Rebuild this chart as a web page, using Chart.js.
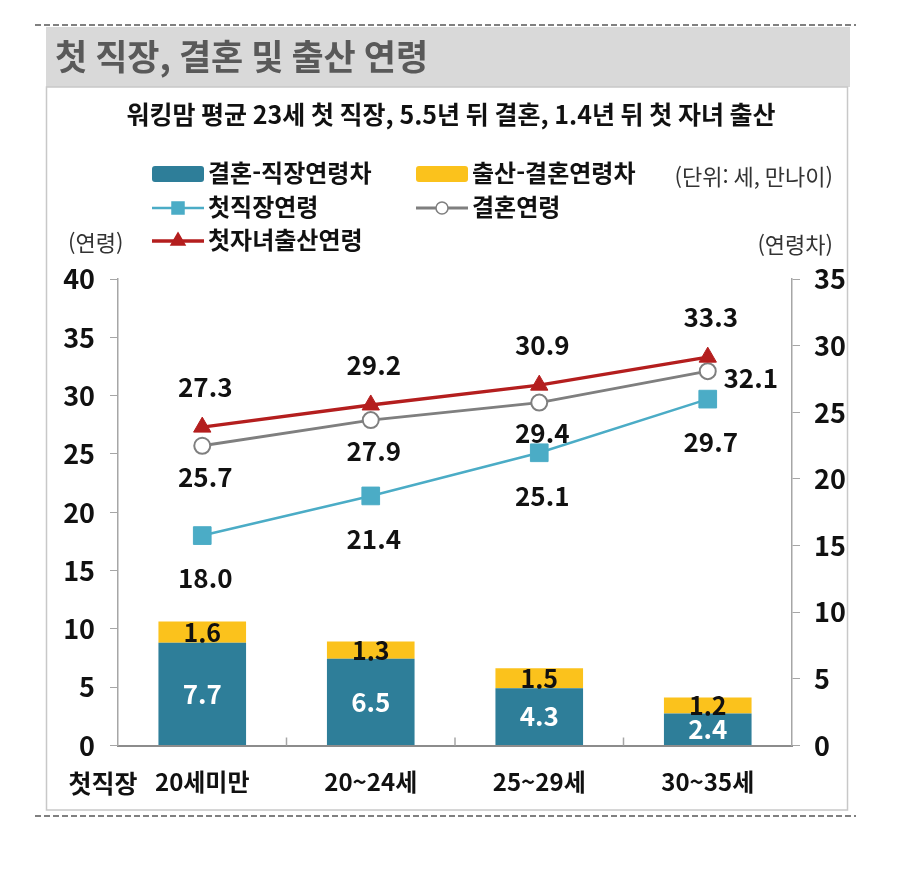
<!DOCTYPE html>
<html lang="ko">
<head>
<meta charset="utf-8">
<title>첫 직장, 결혼 및 출산 연령</title>
<script src="https://cdn.jsdelivr.net/npm/chart.js@4.4.1/dist/chart.umd.min.js"></script>
<style>
  html, body { margin: 0; padding: 0; background: #fff; }
  #wrap { width: 900px; height: 888px; }
</style>
</head>
<body>
<div id="wrap"><canvas id="ageChart" width="900" height="888"></canvas></div>
<script>
// 첫 직장 연령대
const categories = ["20세미만", "20~24세", "25~29세", "30~35세"];

// 막대 (오른쪽 축, 연령차)
const marriageJobGap = [7.7, 6.5, 4.3, 2.4];   // 결혼-직장연령차
const birthMarriageGap = [1.6, 1.3, 1.5, 1.2]; // 출산-결혼연령차

// 꺾은선 (왼쪽 축, 연령)
const firstJobAge = [18.0, 21.4, 25.1, 29.7];
const marriageAge = [25.7, 27.9, 29.4, 32.1];
const firstChildAge = [27.3, 29.2, 30.9, 33.3];

// 축 범위
const ageAxis = { min: 0, max: 40, step: 5 };
const gapAxis = { min: 0, max: 35, step: 5 };

const FONT = "'Noto Sans CJK KR', 'Noto Sans', sans-serif";
const TEAL = "#2e7e99";
const YELLOW = "#fbc21c";
const BLUE = "#4bacc6";
const GRAY = "#7f7f7f";
const RED = "#b41e1e";
const AXIS = "#a6a6a6";

// frame, title, legend and axis captions
const framePlugin = {
    id: "frame",
    beforeDraw(chart) {
        const ctx = chart.ctx;
        ctx.save();
        // dashed top / bottom rules
        ctx.strokeStyle = "#808080";
        ctx.lineWidth = 2;
        ctx.setLineDash([6, 3]);
        [25, 816].forEach(y => {
            ctx.beginPath();
            ctx.moveTo(35, y);
            ctx.lineTo(856, y);
            ctx.stroke();
        });
        ctx.setLineDash([]);
        // title bar
        ctx.fillStyle = "#d9d9d9";
        ctx.fillRect(46, 27, 804, 60);
        // white box border
        ctx.strokeStyle = "#c8c8c8";
        ctx.lineWidth = 1.5;
        ctx.strokeRect(46.5, 87, 801, 723);
        ctx.restore();
    },
    afterDraw(chart) {
        const ctx = chart.ctx;
        ctx.save();
        ctx.textBaseline = "middle";

        ctx.fillStyle = "#595959";
        ctx.font = "bold 35px " + FONT;
        ctx.textAlign = "left";
        ctx.fillText("첫 직장, 결혼 및 출산 연령", 55, 57);

        ctx.fillStyle = "#111";
        ctx.font = "bold 25px " + FONT;
        ctx.textAlign = "center";
        ctx.fillText("워킹맘 평균 23세 첫 직장, 5.5년 뒤 결혼, 1.4년 뒤 첫 자녀 출산", 451, 114);

        // axis captions
        ctx.fillStyle = "#333";
        ctx.font = "22px " + FONT;
        ctx.textAlign = "left";
        ctx.fillText("(연령)", 68, 243);
        ctx.textAlign = "right";
        ctx.fillText("(연령차)", 833, 245);
        ctx.fillText("(단위: 세, 만나이)", 833, 177);

        ctx.fillStyle = "#111";
        ctx.font = "bold 25px " + FONT;
        ctx.textAlign = "center";
        ctx.fillText("첫직장", 103, 783);

        // inner tick marks between categories on the x axis
        const xs = chart.scales.x;
        ctx.strokeStyle = AXIS;
        ctx.lineWidth = 1.5;
        for (let i = 1; i < categories.length; i++) {
            const bx = (xs.getPixelForValue(i - 1) + xs.getPixelForValue(i)) / 2;
            ctx.beginPath();
            ctx.moveTo(bx, xs.top);
            ctx.lineTo(bx, xs.top - 8);
            ctx.stroke();
        }

        drawLegend(chart, ctx);
        ctx.restore();
    }
};

// legend grid: column x, row y
const legendCols = [152, 416];
const legendRows = [174, 208, 241];
const legendSlots = {
    "결혼-직장연령차": [0, 0],
    "출산-결혼연령차": [1, 0],
    "첫직장연령": [0, 1],
    "결혼연령": [1, 1],
    "첫자녀출산연령": [0, 2]
};

function drawMarker(ctx, style, x, y, r, fill, stroke, lw) {
    ctx.fillStyle = fill;
    ctx.strokeStyle = stroke;
    ctx.lineWidth = lw;
    ctx.beginPath();
    if (style === "rect") {
        ctx.rect(x - r, y - r, 2 * r, 2 * r);
    } else if (style === "triangle") {
        ctx.moveTo(x, y - r);
        ctx.lineTo(x + r * 0.87, y + r * 0.5);
        ctx.lineTo(x - r * 0.87, y + r * 0.5);
        ctx.closePath();
    } else {
        ctx.arc(x, y, r, 0, Math.PI * 2);
    }
    ctx.fill();
    ctx.stroke();
}

function drawLegend(chart, ctx) {
    chart.data.datasets.forEach(ds => {
        const slot = legendSlots[ds.label];
        if (!slot) return;
        const x = legendCols[slot[0]];
        const y = legendRows[slot[1]];
        if (ds.type === "bar") {
            ctx.fillStyle = ds.backgroundColor;
            ctx.beginPath();
            ctx.roundRect(x, y - 8, 52, 16, 3);
            ctx.fill();
        } else {
            ctx.strokeStyle = ds.borderColor;
            ctx.lineWidth = ds.borderWidth;
            ctx.beginPath();
            ctx.moveTo(x, y);
            ctx.lineTo(x + 52, y);
            ctx.stroke();
            const r = ds.pointStyle === "rect" ? 6 : (ds.pointStyle === "triangle" ? 8 : 6);
            drawMarker(ctx, ds.pointStyle, x + 26, y, r, ds.pointBackgroundColor, ds.pointBorderColor, 1.5);
        }
        ctx.fillStyle = "#111";
        ctx.font = "bold 24px " + FONT;
        ctx.textAlign = "left";
        ctx.textBaseline = "middle";
        ctx.fillText(ds.label, x + 56, y - 1);
    });
}

// value labels next to each point / inside each bar segment
const valueLabels = {
    id: "valueLabels",
    afterDatasetsDraw(chart) {
        const ctx = chart.ctx;
        chart.data.datasets.forEach((ds, i) => {
            const meta = chart.getDatasetMeta(i);
            const opt = ds.valueLabel;
            if (meta.hidden || !opt) return;
            ctx.save();
            ctx.font = opt.font;
            ctx.fillStyle = opt.color;
            ctx.textAlign = "center";
            ctx.textBaseline = "middle";
            meta.data.forEach((el, j) => {
                let x = el.x;
                let y;
                if (ds.type === "bar") {
                    y = (el.y + el.base) / 2;
                } else if (opt.last && j === meta.data.length - 1) {
                    x = el.x + opt.last.dx;
                    y = el.y + opt.last.dy;
                } else {
                    y = el.y + opt.dy;
                }
                ctx.fillText(ds.data[j].toFixed(1), x + (opt.dx || 0), y);
            });
            ctx.restore();
        });
    }
};

const tickFont = { family: FONT, size: 27, weight: "bold" };
const numFont = "bold 26px " + FONT;

const ctx = document.getElementById("ageChart").getContext("2d");
new Chart(ctx, {
    data: {
        labels: categories,
        datasets: [
            {
                type: "line",
                label: "첫자녀출산연령",
                data: firstChildAge,
                yAxisID: "yAge",
                order: 1,
                borderColor: RED,
                backgroundColor: RED,
                borderWidth: 3.5,
                pointStyle: "triangle",
                pointRadius: 10,
                pointBackgroundColor: RED,
                pointBorderColor: RED,
                pointBorderWidth: 1,
                valueLabel: { font: numFont, color: "#111", dy: -40, dx: 3 }
            },
            {
                type: "line",
                label: "결혼연령",
                data: marriageAge,
                yAxisID: "yAge",
                order: 2,
                borderColor: GRAY,
                backgroundColor: "#fff",
                borderWidth: 3,
                pointStyle: "circle",
                pointRadius: 8,
                pointBackgroundColor: "#fff",
                pointBorderColor: GRAY,
                pointBorderWidth: 2,
                valueLabel: { font: numFont, color: "#111", dy: 31, dx: 3, last: { dx: 40, dy: 7 } }
            },
            {
                type: "line",
                label: "첫직장연령",
                data: firstJobAge,
                yAxisID: "yAge",
                order: 3,
                borderColor: BLUE,
                backgroundColor: BLUE,
                borderWidth: 2.5,
                pointStyle: "rect",
                pointRadius: 12.5,
                pointBackgroundColor: BLUE,
                pointBorderColor: BLUE,
                pointBorderWidth: 1,
                valueLabel: { font: numFont, color: "#111", dy: 43, dx: 3 }
            },
            {
                type: "bar",
                label: "결혼-직장연령차",
                data: marriageJobGap,
                yAxisID: "yGap",
                stack: "gap",
                order: 4,
                backgroundColor: TEAL,
                barPercentage: 0.52,
                categoryPercentage: 1,
                valueLabel: { font: "bold 26px " + FONT, color: "#fff" }
            },
            {
                type: "bar",
                label: "출산-결혼연령차",
                data: birthMarriageGap,
                yAxisID: "yGap",
                stack: "gap",
                order: 5,
                backgroundColor: YELLOW,
                barPercentage: 0.52,
                categoryPercentage: 1,
                valueLabel: { font: "bold 25px " + FONT, color: "#111" }
            }
        ]
    },
    options: {
        responsive: false,
        animation: false,
        devicePixelRatio: 1,
        layout: { padding: { left: 48, right: 48, top: 279, bottom: 82.5 } },
        plugins: {
            legend: { display: false },
            tooltip: { enabled: false }
        },
        scales: {
            x: {
                stacked: true,
                offset: true,
                grid: { display: false, drawTicks: false },
                border: { color: "#8c8c8c", width: 2 },
                ticks: { font: { family: FONT, size: 24, weight: "bold" }, color: "#111", padding: 22 },
                afterFit(scale) { scale.height = 60; }
            },
            yAge: {
                position: "left",
                min: ageAxis.min,
                max: ageAxis.max,
                ticks: { stepSize: ageAxis.step, font: tickFont, color: "#111", padding: 15 },
                grid: { drawOnChartArea: false, drawTicks: true, tickLength: 8, color: AXIS },
                border: { color: AXIS, width: 1.5 },
                afterFit(scale) { scale.width = 70; }
            },
            yGap: {
                position: "right",
                stacked: true,
                min: gapAxis.min,
                max: gapAxis.max,
                ticks: { stepSize: gapAxis.step, font: tickFont, color: "#111", padding: 14 },
                grid: { drawOnChartArea: false, drawTicks: true, tickLength: 8, color: AXIS },
                border: { color: AXIS, width: 1.5 },
                afterFit(scale) { scale.width = 60; }
            }
        }
    },
    plugins: [framePlugin, valueLabels]
});
</script>
</body>
</html>
